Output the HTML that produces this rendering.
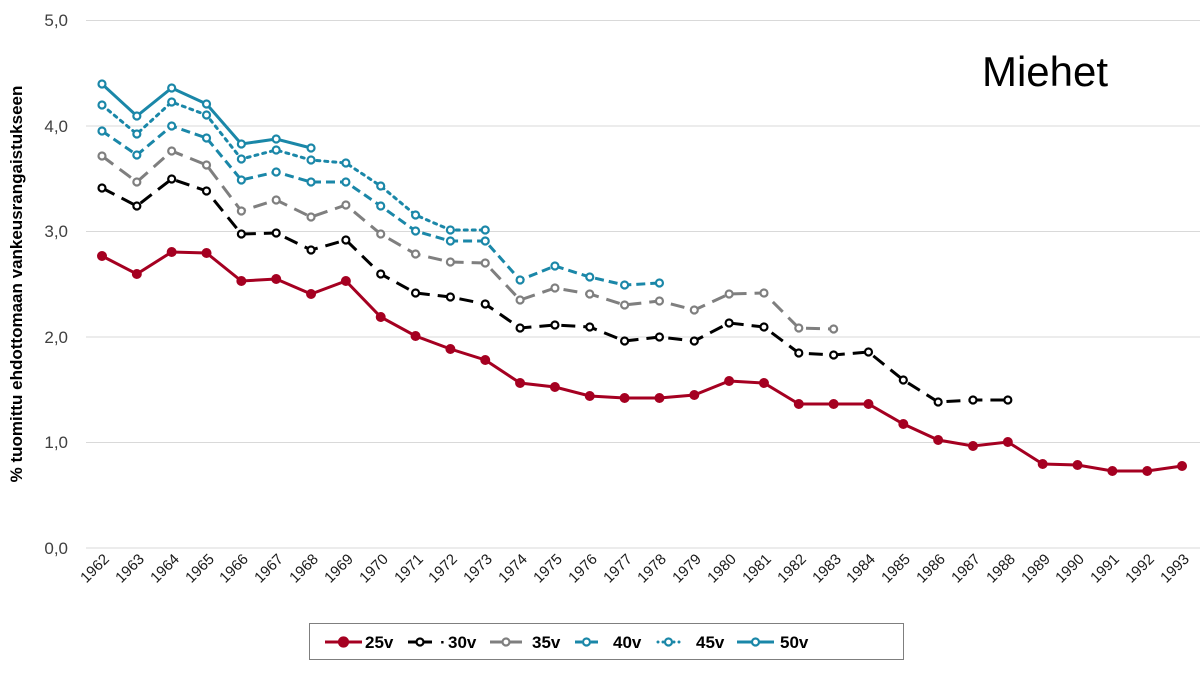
<!DOCTYPE html><html><head><meta charset="utf-8"><style>body{margin:0;background:#fff}svg{display:block;font-family:"Liberation Sans",Arial,sans-serif}</style></head><body>
<svg id="s" width="1200" height="675" viewBox="0 0 1200 675">
<g stroke="#d9d9d9" stroke-width="1">
<line x1="86" x2="1200" y1="20.5" y2="20.5"/><line x1="86" x2="1200" y1="126" y2="126"/><line x1="86" x2="1200" y1="231.5" y2="231.5"/><line x1="86" x2="1200" y1="337" y2="337"/><line x1="86" x2="1200" y1="442.5" y2="442.5"/><line x1="86" x2="1200" y1="548" y2="548"/>
</g>
<g font-size="17" fill="#404040" text-anchor="end">
<text x="68" y="26">5,0</text><text x="68" y="132">4,0</text><text x="68" y="237">3,0</text><text x="68" y="343">2,0</text><text x="68" y="448">1,0</text><text x="68" y="554">0,0</text>
</g>
<text transform="translate(22,284) rotate(-90)" font-size="17" font-weight="bold" text-anchor="middle">% tuomittu ehdottomaan vankeusrangaistukseen</text>
<text x="1045" y="86" font-size="42" text-anchor="middle">Miehet</text>
<g id="xl" font-size="15" fill="#1a1a1a" text-anchor="end">
<text transform="translate(110,560) rotate(-45)">1962</text><text transform="translate(145,560) rotate(-45)">1963</text><text transform="translate(180,560) rotate(-45)">1964</text><text transform="translate(215,560) rotate(-45)">1965</text><text transform="translate(249,560) rotate(-45)">1966</text><text transform="translate(284,560) rotate(-45)">1967</text><text transform="translate(319,560) rotate(-45)">1968</text><text transform="translate(354,560) rotate(-45)">1969</text><text transform="translate(389,560) rotate(-45)">1970</text><text transform="translate(424,560) rotate(-45)">1971</text><text transform="translate(458,560) rotate(-45)">1972</text><text transform="translate(493,560) rotate(-45)">1973</text><text transform="translate(528,560) rotate(-45)">1974</text><text transform="translate(563,560) rotate(-45)">1975</text><text transform="translate(598,560) rotate(-45)">1976</text><text transform="translate(633,560) rotate(-45)">1977</text><text transform="translate(667,560) rotate(-45)">1978</text><text transform="translate(702,560) rotate(-45)">1979</text><text transform="translate(737,560) rotate(-45)">1980</text><text transform="translate(772,560) rotate(-45)">1981</text><text transform="translate(807,560) rotate(-45)">1982</text><text transform="translate(842,560) rotate(-45)">1983</text><text transform="translate(876,560) rotate(-45)">1984</text><text transform="translate(911,560) rotate(-45)">1985</text><text transform="translate(946,560) rotate(-45)">1986</text><text transform="translate(981,560) rotate(-45)">1987</text><text transform="translate(1016,560) rotate(-45)">1988</text><text transform="translate(1051,560) rotate(-45)">1989</text><text transform="translate(1085,560) rotate(-45)">1990</text><text transform="translate(1120,560) rotate(-45)">1991</text><text transform="translate(1155,560) rotate(-45)">1992</text><text transform="translate(1190,560) rotate(-45)">1993</text>
</g>
<g id="series"></g>
<rect x="309.5" y="623.5" width="594" height="36" fill="#fff" stroke="#7f7f7f"/>
<g font-size="17" font-weight="bold">
<text x="365" y="648">25v</text><text x="440" y="648">·</text><text x="448" y="648">30v</text><text x="532" y="648">35v</text><text x="613" y="648">40v</text><text x="696" y="648">45v</text><text x="780" y="648">50v</text>
</g>
<g id="leg"></g>
</svg>
<script>
var S=[
["#a50021","none",[256,274,252,253,281,279,294,281,317,336,349,360,383,387,396,398,398,395,381,383,404,404,404,424,440,446,442,464,465,471,471,466],true],
["#000","14 8",[188,206,179,191,234,233,250,240,274,293,297,304,328,325,327,341,337,341,323,327,353,355,352,380,402,400,400]],
["#7f7f7f","14 8",[156,182,151,165,211,200,217,205,234,254,262,263,300,288,294,305,301,310,294,293,328,329]],
["#1a87a8","9 5",[131,155,126,138,180,172,182,182,206,231,241,241,280,266,277,285,283]],
["#1a87a8","3 5",[105,134,102,115,159,150,160,163,186,215,230,230]],
["#1a87a8","none",[84,116,88,104,144,139,148]]];
var g=document.getElementById('series'),L=document.getElementById('leg'),ns='http://www.w3.org/2000/svg';
function el(p,t,a){var e=document.createElementNS(ns,t);for(var k in a)e.setAttribute(k,a[k]);p.appendChild(e);return e}
var lx=[[325,362],[336,344],[363,374],[392,399],[419,427],[446,458]];
lx=[[325,362],[336,344],[363,374],[392,399],[419,427],[446,458]];
var LL=[[325,362],[336,343],[363,374],[392,399],[419,427],[446,458]];
var legx=[[325,362],[408,432],[490,522],[575,598],[657,680],[737,774]];
S.forEach(function(s,j){var pts=s[2].map(function(y,i){return (102+34.84*i)+','+y}).join(' ');
var a={points:pts,fill:'none',stroke:s[0],'stroke-width':3};if(s[1]!='none')a['stroke-dasharray']=s[1];
if(j==4)a['stroke-linecap']='round';
el(g,'polyline',a);
s[2].forEach(function(y,i){el(g,'circle',{cx:102+34.84*i,cy:y,r:s[3]?4.5:3.5,fill:s[3]?s[0]:'#fff',stroke:s[0],'stroke-width':s[3]?1:2.2})});
var x1=legx[j][0],x2=legx[j][1],cx=(x1+x2)/2;
if(j==0||j==5||j==1||j==2){el(L,'line',{x1:x1,x2:x2,y1:642,y2:642,stroke:s[0],'stroke-width':3});}
else if(j==3){el(L,'line',{x1:x1,x2:x1+7,y1:642,y2:642,stroke:s[0],'stroke-width':3});el(L,'line',{x1:x2-7,x2:x2,y1:642,y2:642,stroke:s[0],'stroke-width':3});}
else{[x1+1,x1+6,x2-6,x2-1].forEach(function(x){el(L,'circle',{cx:x,cy:642,r:1.5,fill:s[0]})});}
el(L,'circle',{cx:cx,cy:642,r:s[3]?4.5:3.5,fill:s[3]?s[0]:'#fff',stroke:s[0],'stroke-width':2.2});
});
</script>
</body></html>
